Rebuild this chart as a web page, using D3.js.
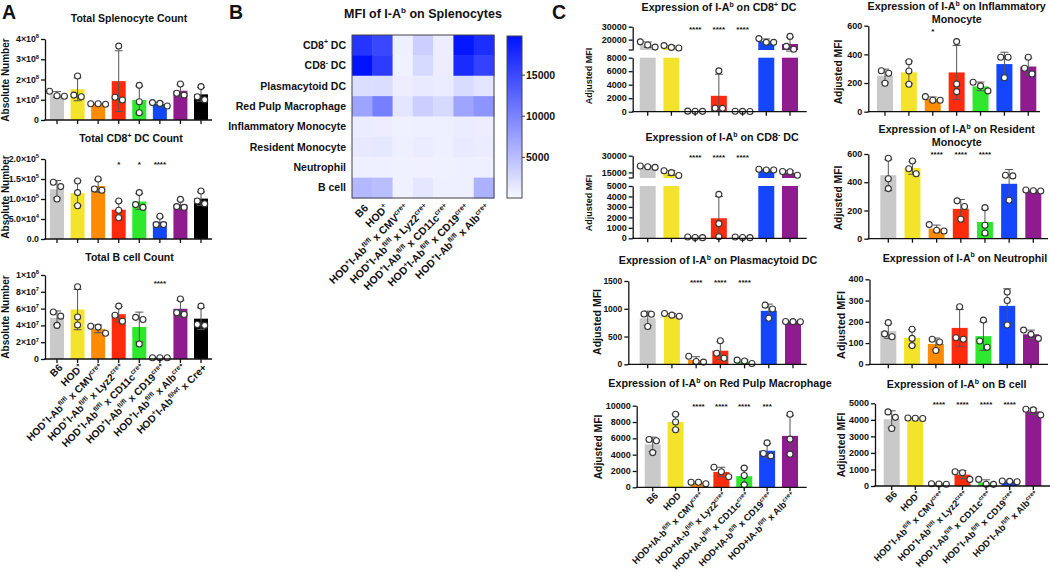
<!DOCTYPE html>
<html><head><meta charset="utf-8">
<script src="https://cdn.jsdelivr.net/npm/d3@7"></script>
<style>
body{margin:0;background:#fff}
svg{display:block}
text{font-family:"Liberation Sans",Arial,Helvetica,sans-serif;font-weight:bold;fill:#111}
</style>
</head><body>
<svg id="fig" width="1050" height="572"></svg>
<script>
// ---------------- DATA ----------------
const groupColors = ["#c9c9c9","#f3e32b","#ff8c00","#ff2b0c","#2ee82e","#1446ff","#8e1c8e","#000000"];

const groupLabelsA = ["B6","HOD{+}","HOD{+}I-Ab{fl/fl} x CMV{cre+}","HOD{+}I-Ab{fl/fl} x Lyz2{cre+}","HOD{+}I-Ab{fl/fl} x CD11c{cre+}","HOD{+}I-Ab{fl/fl} x CD19{cre+}","HOD{+}I-Ab{fl/fl} x Alb{cre+}","HOD{+}I-Ab{fl/wt} x Cre+"];
const groupLabelsB = ["B6","HOD{+}","HOD{+}I-Ab{fl/fl} x CMV{cre+}","HOD{+}I-Ab{fl/fl} x Lyz2{cre+}","HOD{+}I-Ab{fl/fl} x CD11c{cre+}","HOD{+}I-Ab{fl/fl} x CD19{cre+}","HOD{+}I-Ab{fl/fl} x Alb{cre+}"];
const groupLabelsRPM = ["B6","HOD","HOD+IA-b{fl/fl} x CMV{cre+}","HOD+IA-b{fl/fl} x Lyz2{cre+}","HOD+IA-b{fl/fl} x CD11c{cre+}","HOD+IA-b{fl/fl} x CD19{cre+}","HOD+IA-b{fl/fl} x Alb{cre+}"];

// Panel A: absolute numbers (3 mice per group)
const splenocyteCount = [[1.42e8,1.17e8,1.20e8],[2.17e8,1.15e8,1.23e8],[0.78e8,0.80e8,0.80e8],[3.65e8,0.99e8,1.12e8],[1.71e8,0.90e8,0.36e8],[0.69e8,0.86e8,0.82e8],[1.78e8,1.23e8,1.32e8],[1.65e8,1.00e8,1.15e8]];
const cd8DcCount = [[1.42e5,1.31e5,1.00e5],[1.45e5,1.16e5,0.83e5],[1.50e5,1.22e5,1.25e5],[0.95e5,0.72e5,0.53e5],[1.16e5,0.79e5,0.86e5],[0.57e5,0.36e5,0.36e5],[0.99e5,0.79e5,0.81e5],[1.20e5,0.88e5,0.95e5]];
const bCellCount = [[5.6e7,5.1e7,4.0e7],[8.6e7,5.0e7,4.05e7],[3.8e7,3.9e7,3.06e7],[6.3e7,5.2e7,4.5e7],[4.7e7,4.96e7,1.78e7],[0.15e7,0.15e7,0.15e7],[7.14e7,5.3e7,5.5e7],[6.3e7,4.0e7,4.1e7]];
const starsA2 = ["","","","*","*","****","",""];
const starsA3 = ["","","","","","****","",""];
const ticksA1 = [0,1e8,2e8,3e8,4e8];
const tickLabelsA1 = ["0","1×10{8}","2×10{8}","3×10{8}","4×10{8}"];
const ticksA2 = [0,5e4,1e5,1.5e5,2e5];
const tickLabelsA2 = ["0.0","5.0×10{4}","1.0×10{5}","1.5×10{5}","2.0×10{5}"];
const ticksA3 = [0,2e7,4e7,6e7,8e7,1e8];
const tickLabelsA3 = ["0","2×10{7}","4×10{7}","6×10{7}","8×10{7}","1×10{8}"];

// Panel B: heatmap MFI
const heatRows = ["CD8{+} DC","CD8{-} DC","Plasmacytoid DC","Red Pulp Macrophage","Inflammatory Monocyte","Resident Monocyte","Neutrophil","B cell"];
const heatValues = [
  [16800,15200, 700,3600, 900,19300,17400],
  [19700,16200, 600,2600, 900,17600,15600],
  [ 2200, 2300, 900,1200,1000, 2400,1700],
  [ 7200,10400,1600,3600,2600, 7100,8600],
  [ 1000,  900, 600, 800, 700, 1000, 900],
  [ 1300, 1400, 700,1000, 800, 1200,1000],
  [  700,  700, 600, 650, 600,  700, 700],
  [ 5400, 5000, 600,1500, 700,  800,6000]
];
const colorTicks = [5000,10000,15000];

// Panel C: adjusted MFI (3 mice per group)
const cd8pDC = [[18300,14240,15900],[13600,15400,14000],[50,80,60],[6050,500,520],[40,60,50],[17900,20800,17900],[22500,14800,12600]];
const cd8nDC = [[19500,20800,20100],[16500,12200,14800],[60,120,80],[4200,1400,150],[80,120,60],[17200,17800,17200],[12500,15800,15600]];
const pDC = [[905,900,680],[885,915,865],[145,40,50],[425,200,110],[15,75,60],[1065,995,830],[770,765,768]];
const rpMac = [[5700,5850,4250],[8950,8000,7050],[430,620,610],[2450,1900,1300],[2350,1450,300],[5450,3850,4150],[8950,5900,4050]];
const inflMono = [[268,286,198],[349,284,191],[105,80,80],[489,193,140],[180,145,205],[380,380,237],[380,303,263]];
const resMono = [[570,425,355],[550,495,460],[100,55,60],[268,228,138],[220,95,40],[445,450,272],[340,345,338]];
const neutro = [[130,196,143],[165,122,88],[105,118,65],[271,118,125],[208,110,80],[340,300,185],[161,141,122]];
const bCellMFI = [[4480,4150,3480],[4080,4100,4110],[120,110,140],[800,860,400],[400,100,110],[280,300,260],[4640,4600,4290]];

const starsC1 = ["","","****","****","****","",""];
const starsC2 = ["","","*","","","",""];
const starsC4 = ["","","****","****","****","",""];
const starsC7 = ["","","****","****","****","***",""];
const starsC8 = ["","","****","****","****","****",""];

const ticksC1low = [0,2000,4000,6000,8000], ticksC1up = [20000,30000];
const ticksC3low = [0,1000,2000,3000,4000,5000], ticksC3up = [15000,30000];
const ticksC5 = [0,500,1000,1500];
const ticksC7 = [0,2000,4000,6000,8000,10000];
const ticksC2 = [0,200,400,600];
const ticksC6 = [0,100,200,300,400];
const ticksC8 = [0,1000,2000,3000,4000,5000];

// ---------------- HELPERS ----------------
const svg = d3.select("#fig");
svg.append("rect").attr("width",1050).attr("height",572).attr("fill","#fff");

function rich(t, str, fs) {
  t.text(null);
  const parts = str.split(/(\{[^}]*\})/).filter(s => s.length);
  let shifted = false;
  parts.forEach(p => {
    if (p[0] === "{") {
      t.append("tspan").attr("font-size", fs*0.65).attr("dy", -fs*0.42).text(p.slice(1,-1));
      shifted = true;
    } else {
      const s = t.append("tspan").text(p);
      if (shifted) { s.attr("dy", fs*0.42); shifted = false; }
    }
  });
}

function styleAxis(sel) {
  sel.selectAll(".domain").attr("stroke","#111").attr("stroke-width",1.3);
  sel.selectAll(".tick line").attr("stroke","#111").attr("stroke-width",1.3);
  sel.selectAll(".tick text").remove();
}

function barChart(c) {
  const g = svg.append("g");
  const n = c.data.length;
  const x = d3.scalePoint().domain(d3.range(n)).range([c.firstC, c.lastC]);
  const segs = c.segments;
  const sc = segs.map(s => d3.scaleLinear().domain(s.domain).range(s.range));
  const yOf = v => {
    if (segs.length === 1) return sc[0](v);
    if (v >= segs[1].domain[0]) return sc[1](v);
    if (v <= segs[0].domain[1]) return sc[0](v);
    const t = (v - segs[0].domain[1]) / (segs[1].domain[0] - segs[0].domain[1]);
    return segs[0].range[1] + t * (segs[1].range[0] - segs[0].range[1]);
  };
  const bw = c.barW;
  const stats = c.data.map(p => ({m: d3.mean(p), s: d3.deviation(p)}));

  stats.forEach((st, i) => {
    segs.forEach((s, k) => {
      if (st.m > s.domain[0]) {
        const top = sc[k](Math.min(st.m, s.domain[1]));
        const bot = sc[k](s.domain[0]);
        g.append("rect").attr("x", x(i)-bw/2).attr("y", top).attr("width", bw)
          .attr("height", Math.max(0.8, bot-top)).attr("fill", c.colors[i]);
      }
    });
  });
  stats.forEach((st, i) => {
    const lo = Math.max(0, st.m - st.s), hi = st.m + st.s;
    segs.forEach((s, k) => {
      const a = Math.max(lo, s.domain[0]), b = Math.min(hi, s.domain[1]);
      if (b > a) g.append("line").attr("x1", x(i)).attr("x2", x(i)).attr("y1", sc[k](a)).attr("y2", sc[k](b))
        .attr("stroke","#555").attr("stroke-width",1);
    });
    const caps = [hi];
    if (st.m - st.s > 0) caps.push(st.m - st.s);
    caps.forEach(v => g.append("line").attr("x1", x(i)-4).attr("x2", x(i)+4).attr("y1", yOf(v)).attr("y2", yOf(v))
      .attr("stroke","#555").attr("stroke-width",1));
  });
  const r = 3;
  c.data.forEach((pts, i) => {
    const yp = pts.map(yOf);
    const order = d3.range(pts.length).sort((a,b) => yp[a]-yp[b]);
    const clusters = [];
    order.forEach((idx, j) => {
      if (j > 0 && yp[idx] - yp[order[j-1]] < 2*r + 0.8) clusters[clusters.length-1].push(idx);
      else clusters.push([idx]);
    });
    clusters.forEach(cl => cl.forEach((idx, j) => {
      const dx = (j - (cl.length-1)/2) * (2*r + 1.4);
      g.append("circle").attr("cx", x(i)+dx).attr("cy", yp[idx]).attr("r", r)
        .attr("fill","#fff").attr("stroke","#333").attr("stroke-width",1.1);
    }));
  });
  segs.forEach((s, k) => {
    const ax = g.append("g").attr("transform", `translate(${c.axisX},0)`)
      .call(d3.axisLeft(sc[k]).tickValues(s.ticks).tickSize(4).tickSizeOuter(0).tickFormat(""));
    styleAxis(ax);
    if (k === 1) {
      g.append("line").attr("x1", c.axisX-4).attr("x2", c.axisX).attr("y1", s.range[0]).attr("y2", s.range[0])
        .attr("stroke","#111").attr("stroke-width",1.3);
    }
    s.ticks.forEach((t, j) => {
      const tx = g.append("text").attr("x", c.axisX-6).attr("y", sc[k](t)).attr("dy","0.35em")
        .attr("text-anchor","end").attr("font-size", c.tickFs);
      rich(tx, s.labels[j], c.tickFs);
    });
  });
  const y0 = segs[0].range[0];
  g.append("line").attr("x1", c.axisX-0.65).attr("x2", c.axisEnd).attr("y1", y0).attr("y2", y0)
    .attr("stroke","#111").attr("stroke-width",1.3);
  d3.range(n).forEach(i => g.append("line").attr("x1", x(i)).attr("x2", x(i)).attr("y1", y0).attr("y2", y0+4)
    .attr("stroke","#111").attr("stroke-width",1.3));
  if (c.stars) c.stars.forEach((s, i) => {
    if (s) g.append("text").attr("x", x(i)).attr("y", c.starY).attr("text-anchor","middle")
      .attr("font-size", 8).text(s);
  });
  c.title.forEach((line, j) => {
    const t = g.append("text").attr("x", c.titleX).attr("y", c.titleY + j*12.5).attr("text-anchor","middle")
      .attr("font-size", c.titleFs);
    rich(t, line, c.titleFs);
  });
  g.append("text").attr("transform", `translate(${c.ylX},${c.ylY}) rotate(-90)`).attr("text-anchor","middle")
    .attr("font-size", c.ylFs).text(c.ylabel);
  if (c.xLabels) c.xLabels.forEach((lab, i) => {
    const t = g.append("text").attr("transform", `translate(${x(i)+3},${y0+6}) rotate(-45)`)
      .attr("text-anchor","end").attr("dy","0.45em").attr("font-size", c.xFs);
    rich(t, lab, c.xFs);
  });
}

const lin = (lo, hi, y0, yTop, ticks, labels) => ({domain:[lo,hi], range:[y0,yTop], ticks, labels: labels || ticks.map(String)});

// ---------------- PANEL A ----------------
svg.append("text").attr("x",2).attr("y",19).attr("font-size",19.5).text("A");
const baseA = {axisX:45, axisEnd:212, firstC:57, lastC:201, barW:14, colors:groupColors, tickFs:8.8, titleFs:10.5, ylFs:10, ylabel:"Absolute Number", ylX:9, xFs:10.2};
barChart({...baseA, data:splenocyteCount, segments:[lin(0,4e8,120,39,ticksA1,tickLabelsA1)], title:["Total Splenocyte Count"], titleX:129, titleY:22, ylY:80});
barChart({...baseA, data:cd8DcCount, segments:[lin(0,2e5,239,159,ticksA2,tickLabelsA2)], title:["Total CD8{+} DC Count"], titleX:131, titleY:142, ylY:197, stars:starsA2, starY:167});
barChart({...baseA, data:bCellCount, segments:[lin(0,1e8,359,275,ticksA3,tickLabelsA3)], title:["Total B cell Count"], titleX:129.5, titleY:261, ylY:317, stars:starsA3, starY:286, xLabels:groupLabelsA});

// ---------------- PANEL B ----------------
svg.append("text").attr("x",229).attr("y",18.5).attr("font-size",19.5).text("B");
{
  const g = svg.append("g");
  const hx = d3.scaleBand().domain(d3.range(groupLabelsB.length)).range([352,494]);
  const hy = d3.scaleBand().domain(d3.range(heatRows.length)).range([35,198]);
  const cmax = 19700;
  const color = d3.scaleLinear().domain([0,cmax]).range(["#f8f8ff","#0012ff"]);
  heatValues.forEach((row, i) => row.forEach((v, j) => {
    g.append("rect").attr("x", hx(j)).attr("y", hy(i)).attr("width", hx.bandwidth()+0.5).attr("height", hy.bandwidth()+0.5)
      .attr("fill", color(v));
  }));
  g.append("rect").attr("x",352).attr("y",35).attr("width",142).attr("height",163).attr("fill","none")
    .attr("stroke","#444").attr("stroke-width",1);
  heatRows.forEach((r, i) => {
    const t = g.append("text").attr("x",346).attr("y", hy(i)+hy.bandwidth()/2).attr("dy","0.35em")
      .attr("text-anchor","end").attr("font-size",10.5);
    rich(t, r, 10.5);
  });
  groupLabelsB.forEach((lab, j) => {
    const t = g.append("text").attr("transform", `translate(${hx(j)+hx.bandwidth()/2+3},${205}) rotate(-45)`)
      .attr("text-anchor","end").attr("dy","0.5em").attr("font-size",10.5);
    rich(t, lab, 10.5);
  });
  const tt = g.append("text").attr("x",423).attr("y",18).attr("text-anchor","middle").attr("font-size",12.5);
  rich(tt, "MFI of I-A{b} on Splenocytes", 12.5);
  const defs = svg.append("defs");
  const grad = defs.append("linearGradient").attr("id","cb").attr("x1",0).attr("y1",1).attr("x2",0).attr("y2",0);
  d3.range(0,1.0001,0.1).forEach(t => grad.append("stop").attr("offset", t).attr("stop-color", color(t*cmax)));
  g.append("rect").attr("x",507).attr("y",36).attr("width",15).attr("height",162).attr("fill","url(#cb)")
    .attr("stroke","#444").attr("stroke-width",1);
  const cy = d3.scaleLinear().domain([0,cmax]).range([198,36]);
  const cax = g.append("g").attr("transform","translate(522,0)")
    .call(d3.axisRight(cy).tickValues(colorTicks).tickSize(3).tickFormat(d3.format("d")));
  cax.select(".domain").remove();
  cax.selectAll(".tick line").attr("stroke","#333");
  cax.selectAll(".tick text").attr("font-size",10.5).attr("font-weight","normal").attr("x",4).attr("fill","#222");
}

// ---------------- PANEL C ----------------
svg.append("text").attr("x",552).attr("y",18.5).attr("font-size",19.5).text("C");
const baseC = {barW:16, colors:groupColors, tickFs:9, titleFs:10.7, ylFs:10.3, ylabel:"Adjusted MFI", xFs:9.3};
barChart({...baseC, data:cd8pDC, axisX:632.7, axisEnd:806.7, firstC:647.7, lastC:790, ylFs:9,
  segments:[lin(0,8000,111.7,57.7,ticksC1low), lin(12000,30000,50,26.7,ticksC1up)],
  title:["Expression of I-A{b} on CD8{+} DC"], titleX:719, titleY:11, ylX:592, ylY:76, stars:starsC1, starY:32});
barChart({...baseC, data:cd8nDC, axisX:632.7, axisEnd:806.7, firstC:647.7, lastC:790, ylFs:9,
  segments:[lin(0,5000,238.3,186,ticksC3low), lin(10000,30000,178,155.7,ticksC3up)],
  title:["Expression of I-A{b} on CD8{-} DC"], titleX:722, titleY:141, ylX:592, ylY:203, stars:starsC1, starY:160});
barChart({...baseC, data:pDC, axisX:628.3, axisEnd:806.7, firstC:647.7, lastC:793, ylFs:10.5, tickFs:8.5,
  segments:[lin(0,1500,364.3,281,ticksC5)],
  title:["Expression of I-A{b} on Plasmacytoid DC"], titleX:718, titleY:264, ylX:601, ylY:322, stars:starsC1, starY:285});
barChart({...baseC, data:rpMac, axisX:636.7, axisEnd:806.7, firstC:652.7, lastC:790,
  segments:[lin(0,10000,487.3,405.7,ticksC7)],
  title:["Expression of I-A{b} on Red Pulp Macrophage"], titleX:720, titleY:387, ylX:602, ylY:447, stars:starsC7, starY:409, xLabels:groupLabelsRPM});
barChart({...baseC, data:inflMono, axisX:868.3, axisEnd:1040, firstC:885, lastC:1028.3,
  segments:[lin(0,600,111.7,25.7,ticksC2)],
  title:["Expression of I-A{b} on Inflammatory","Monocyte"], titleX:956.7, titleY:10, ylX:842, ylY:72, stars:starsC2, starY:34});
barChart({...baseC, data:resMono, axisX:868.3, axisEnd:1048, firstC:888.3, lastC:1033.3,
  segments:[lin(0,600,238.7,154,ticksC2)],
  title:["Expression of I-A{b} on Resident","Monocyte"], titleX:956.7, titleY:133, ylX:842, ylY:198, stars:starsC4, starY:157});
barChart({...baseC, data:neutro, axisX:869.5, axisEnd:1048, firstC:888.3, lastC:1031, ylFs:10.8,
  segments:[lin(0,400,364.3,279.3,ticksC6)],
  title:["Expression of I-A{b} on Neutrophil"], titleX:965, titleY:261.5, ylX:845, ylY:325});
barChart({...baseC, data:bCellMFI, axisX:875, axisEnd:1050, firstC:891.7, lastC:1033.3,
  segments:[lin(0,5000,486,403.3,ticksC8)],
  title:["Expression of I-A{b} on B cell"], titleX:956.7, titleY:388, ylX:845, ylY:445, stars:starsC8, starY:407, xLabels:groupLabelsB});
</script>
</body></html>
